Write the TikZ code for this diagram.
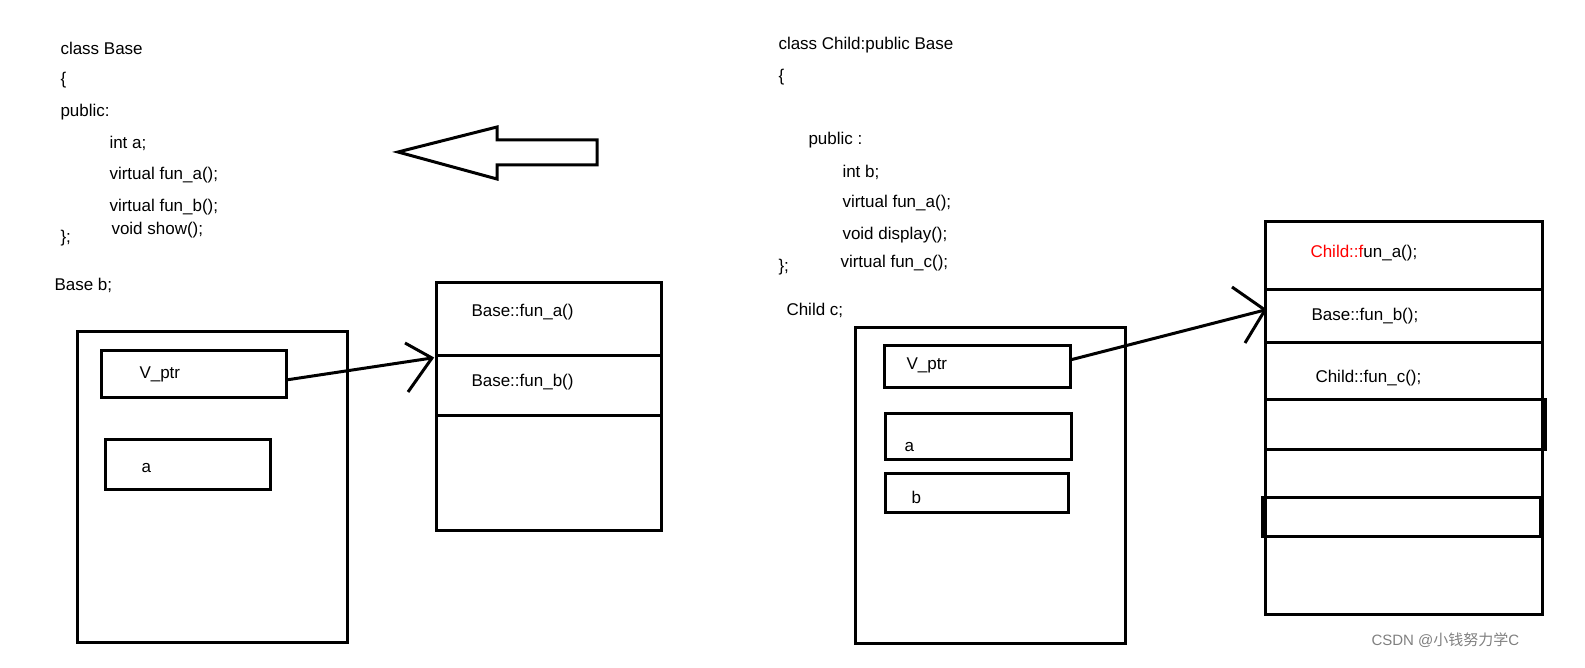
\documentclass[tikz,border=0pt]{standalone}
\usepackage{fontspec}
\setmainfont{Liberation Sans}
\newfontfamily\cjk{Noto Sans CJK SC}
\tikzset{every picture/.style={line width=3pt}}
\tikzset{code/.style={anchor=west,inner sep=0pt,font=\fontsize{17}{20}\selectfont},
  box/.style={draw,line width=3pt}}

\begin{document}
\begin{tikzpicture}[x=1pt,y=1pt,yscale=-1,xscale=1]
\useasboundingbox (0,0) rectangle (1585,668);

% Base code
\node[code] (l1) at (59,48) {class Base};
\node[code] (l2) at (59,80) {\{};
\node[code] (l3) at (59,112) {public:};
\node[code] (l4) at (108,143) {int a;};
\node[code] (l5) at (108,175) {virtual fun\_a();};
\node[code] (l6) at (108,207) {virtual fun\_b();};
\node[code] (l7) at (110,230) {void show();};
\node[code] (l8) at (59,238) {\};};
\node[code] (bb) at (53,285) {Base b;};

% Child code
\node[code] (r1) at (777,45) {class Child:public Base};
\node[code] (r2) at (777,77) {\{};
\node[code] (r3) at (807,140) {public :};
\node[code] (r4) at (841,172) {int b;};
\node[code] (r5) at (841,203) {virtual fun\_a();};
\node[code] (r6) at (841,235) {void display();};
\node[code] (r7) at (839,263) {virtual fun\_c();};
\node[code] (r8) at (777,267) {\};};
\node[code] (cc) at (785,310) {Child c;};

% hollow arrow
\draw (398,152) -- (497,127) -- (497,140) -- (597,140) -- (597,165) -- (497,165) -- (497,179) -- cycle;

% object b
\draw (77,332) rectangle (347,642);
\draw (101,350) rectangle (286,397);
\draw (105,439) rectangle (270,489);
\node[code] (bptr) at (138,374) {V\_ptr};
\node[code] (ba) at (140,468) {a};
\coordinate (bptrE) at (286,380);

% vtable of Base
\draw (436,283) rectangle (661,530);
\draw (436,355) -- (661,355);
\draw (436,415) -- (661,415);
\node[code] (bfa) at (470,312) {Base::fun\_a()};
\node[code] (bfb) at (470,382) {Base::fun\_b()};
\coordinate (btab) at (432,358);
\draw (bptrE) -- (btab);
\draw (405,343) -- (btab) -- (408,392);

% object c
\draw (855,328) rectangle (1125,643);
\draw (884,345) rectangle (1070,387);
\draw (885,413) rectangle (1071,459);
\draw (885,473) rectangle (1068,512);
\node[code] (cptr) at (905,365) {V\_ptr};
\node[code] (ca) at (903,447) {a};
\node[code] (cb) at (910,497) {b};
\coordinate (cptrE) at (1070,360);

% vtable of Child
\draw (1265,222) rectangle (1542,614);
\draw (1265,290) -- (1542,290);
\draw (1265,342) -- (1542,342);
\draw (1265,399) rectangle (1545,449);
\draw (1262,497) rectangle (1540,536);
\node[code] (cfa) at (1309,253) {\textcolor{red}{Child::f}un\_a();};
\node[code] (cfb) at (1310,316) {Base::fun\_b();};
\node[code] (cfc) at (1314,378) {Child::fun\_c();};
\coordinate (ctab) at (1265,310);
\draw (cptrE) -- (ctab);
\draw (1232,287) -- (ctab) -- (1245,343);

\node[code,text=gray,font=\fontsize{15}{18}\selectfont] (wm) at (1370,640) {CSDN @{\cjk 小钱努力学}C};
\end{tikzpicture}
\end{document}
